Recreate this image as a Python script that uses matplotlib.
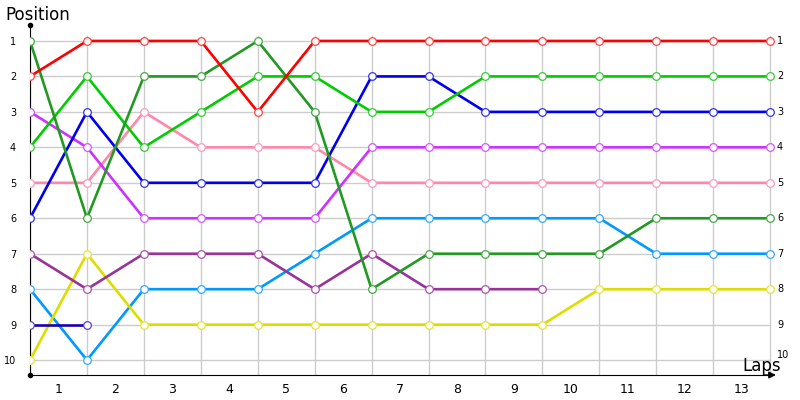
import matplotlib
matplotlib.use("Agg")
import matplotlib.pyplot as plt
import numpy as np

# lap checkpoints 0..13 (the labels 1..13 sit between them)
laps = list(range(14))
lap_labels = [str(i) for i in range(1, 14)]
positions = list(range(1, 11))

# position of each driver after every checkpoint
red = [2, 1, 1, 1, 3, 1, 1, 1, 1, 1, 1, 1, 1, 1]
dark_green = [1, 6, 2, 2, 1, 3, 8, 7, 7, 7, 7, 6, 6, 6]
light_green = [4, 2, 4, 3, 2, 2, 3, 3, 2, 2, 2, 2, 2, 2]
blue = [6, 3, 5, 5, 5, 5, 2, 2, 3, 3, 3, 3, 3, 3]
pink = [5, 5, 3, 4, 4, 4, 5, 5, 5, 5, 5, 5, 5, 5]
violet = [3, 4, 6, 6, 6, 6, 4, 4, 4, 4, 4, 4, 4, 4]
plum = [7, 8, 7, 7, 7, 8, 7, 8, 8, 8]
sky = [8, 10, 8, 8, 8, 7, 6, 6, 6, 6, 6, 7, 7, 7]
yellow = [10, 7, 9, 9, 9, 9, 9, 9, 9, 9, 8, 8, 8, 8]
navy = [9, 9]

# (values, line colour, marker edge colour)
series = [
    (sky, "#0099ff", "#33aaff"),
    (yellow, "#dddd00", "#e6e633"),
    (plum, "#993399", "#aa55aa"),
    (pink, "#ff88aa", "#ff99bb"),
    (violet, "#cc33ff", "#d455ff"),
    (blue, "#0000ee", "#3333ee"),
    (light_green, "#00cc00", "#33cc33"),
    (dark_green, "#229922", "#44aa44"),
    (red, "#ff0000", "#ff4444"),
    (navy, "#1a00b0", "#5544cc"),
]

fig = plt.figure(figsize=(8, 4), dpi=100)
ax = fig.add_axes([30 / 800, 25 / 400, 747 / 800, 350 / 400])
ax.set_xlim(0, 13.12)
ax.set_ylim(10.42, 0.55)

# grid
for x in laps:
    ax.plot([x, x], [10.42, 0.85], color="#cccccc", lw=1, zorder=1)
for y in positions:
    ax.plot([0, 13], [y, y], color="#cccccc", lw=1, zorder=1)

for vals, col, edge in series:
    ax.plot(laps[:len(vals)], vals, color=col, lw=1.9, zorder=3,
            marker="o", markersize=5.5, markerfacecolor="white",
            markeredgecolor=edge, markeredgewidth=0.9)

for s in ["top", "right"]:
    ax.spines[s].set_visible(False)
ax.spines["left"].set_color("black")
ax.spines["bottom"].set_color("black")
ax.spines["bottom"].set_bounds(0, 13.0)

ax.set_xticks([i + 0.5 for i in range(13)])
ax.set_xticklabels(lap_labels, fontsize=9)
ax.set_yticks(positions)
ax.set_yticklabels([str(p) for p in positions], fontsize=7)
ax.tick_params(length=0, pad=6)
ax.tick_params(axis="y", pad=10)

# right-hand position labels
for p in positions:
    ax.text(13.12, p - (0.15 if p == 10 else 0), str(p), fontsize=7,
            va="center", ha="left")

# axis arrow and dots
ax.annotate("", xy=(13.15, 10.42), xytext=(12.85, 10.42),
            arrowprops=dict(arrowstyle="-|>", color="black", lw=1,
                            mutation_scale=10),
            annotation_clip=False)
ax.plot([0, 0], [0.55, 10.42], "o", color="black", markersize=3,
        clip_on=False, zorder=5)

fig.text(5 / 800, 1 - 15 / 400, "Position", fontsize=12, va="center", ha="left")
fig.text(742 / 800, 1 - 366 / 400, "Laps", fontsize=12, va="center", ha="left")

fig.savefig("out.png", dpi=100)
